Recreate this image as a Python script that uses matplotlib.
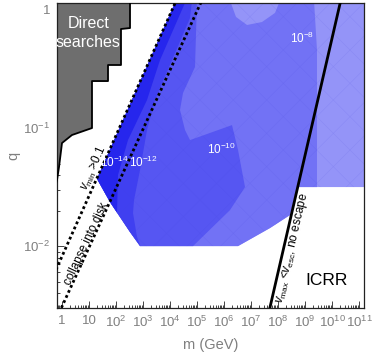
import numpy as np
import matplotlib
matplotlib.use('Agg')
from matplotlib import pyplot as plt
from matplotlib.ticker import FixedLocator, FuncFormatter, NullFormatter

plt.rcParams['font.family'] = ['Liberation Sans', 'DejaVu Sans']
plt.rcParams['mathtext.fontset'] = 'custom'
plt.rcParams['mathtext.rm'] = 'Liberation Sans'
plt.rcParams['mathtext.it'] = 'Liberation Sans:italic'
plt.rcParams['mathtext.bf'] = 'Liberation Sans:bold'
plt.rcParams['hatch.linewidth'] = 0.4

# everything below is log10(m / GeV) and log10(q)

# direct searches (grey staircase)
direct_logm = [-0.4, 2.519, 2.519, 2.185, 2.185, 1.704, 1.704, 1.111, 1.111, 0.370, 0.0, -0.111, -0.185, -0.4]
direct_logq = [0.08, 0.08, -0.153, -0.161, -0.466, -0.466, -0.602, -0.602, -1.0, -1.059, -1.127, -1.331, -1.441, -1.6]

# blue regions, outermost first
region_logm = [
    [4.225, 11.3, 11.3, 8.704, 8.444, 7.704, 6.519, 2.889, 2.519, 1.778, 1.296],
    [4.225, 6.222, 6.444, 6.852, 7.407, 7.889, 8.074, 9.333, 9.444, 9.444, 8.704, 8.444, 7.704, 6.519,
     2.889, 2.519, 1.778, 1.296],
    [4.225, 5.0, 4.926, 4.481, 4.370, 4.556, 4.741, 6.296, 6.519, 6.778, 6.222, 4.852, 2.889, 2.519,
     1.778, 1.296],
    [4.225, 4.815, 4.741, 3.444, 3.148, 2.889, 2.667, 2.630, 2.778, 2.90, 2.519, 1.778, 1.296],
    [4.225, 4.593, 3.630, 3.148, 2.444, 2.074, 2.037, 1.778, 1.296],
]
region_logq = [
    [0.08, 0.08, -1.5, -1.5, -1.737, -1.847, -2.0, -2.0, -1.881, -1.627, -1.43],
    [0.08, 0.08, -0.059, -0.127, -0.102, -0.025, 0.08, 0.08, -0.339, -1.5, -1.5, -1.737, -1.847, -2.0,
     -2.0, -1.881, -1.627, -1.43],
    [0.08, 0.08, -0.483, -0.703, -0.847, -1.017, -1.102, -0.975, -1.186, -1.5, -1.695, -2.0, -2.0, -1.881,
     -1.627, -1.43],
    [0.08, 0.08, -0.068, -0.763, -1.017, -1.356, -1.610, -1.720, -1.924, -2.0, -1.881, -1.627, -1.43],
    [0.08, 0.08, -0.424, -0.763, -1.102, -1.398, -1.716, -1.627, -1.43],
]
region_colors = ['#9494f8', '#7272f5', '#5656f2', '#4040f0', '#2626ed']

# contour labels
label_text = ['$10^{-14}$', '$10^{-12}$', '$10^{-10}$', '$10^{-8}$']
label_logm = [1.963, 3.0, 5.889, 8.889]
label_logq = [-1.288, -1.288, -1.178, -0.237]

# straight bounds (end points)
vmin_m = [0.6, 1.7e4]
vmin_q = [0.0063, 1.2]
disk_m = [0.95, 1.5e5]
disk_q = [0.003, 1.2]
icrr_m = [5.0e7, 2.1e10]
icrr_q = [0.003, 1.2]

# ticks
xticks = [10.0 ** k for k in range(0, 12)]
yticks = [0.01, 0.1, 1.0]

gris = '#7f7f7f'

fig = plt.figure(figsize=(3.74, 3.56), dpi=100)
ax = fig.add_axes([57 / 374, 48 / 356, 307 / 374, 305 / 356])
ax.set_xscale('log')
ax.set_yscale('log')

for lm, lq, c in zip(region_logm, region_logq, region_colors):
    ax.fill(10 ** np.array(lm), 10 ** np.array(lq), color=c, lw=0, zorder=1)
# faint mesh like the original triangulation
ax.fill(10 ** np.array(region_logm[0]), 10 ** np.array(region_logq[0]), facecolor='none',
        edgecolor=(0.25, 0.25, 0.85, 0.12), hatch='x', lw=0, zorder=1.5)

ax.fill(10 ** np.array(direct_logm), 10 ** np.array(direct_logq), color='#6e6e6e', lw=0, zorder=2)
ax.plot(10 ** np.array(direct_logm[1:]), 10 ** np.array(direct_logq[1:]), color='black', lw=1.3, zorder=3)

ax.plot(vmin_m, vmin_q, color='black', lw=2, ls=(0, (1, 1)), zorder=4)
ax.plot(disk_m, disk_q, color='black', lw=2, ls=(0, (1, 1)), zorder=4)
ax.plot(icrr_m, icrr_q, color='black', lw=2, zorder=4)

for t, lm, lq in zip(label_text, label_logm, label_logq):
    ax.text(10 ** lm, 10 ** lq, t, color='white', fontsize=8.5, ha='center', va='center', zorder=5)

ax.text(10 ** 0.98, 10 ** -0.195, 'Direct\nsearches', color='white', fontsize=11.5, ha='center',
        va='center', linespacing=1.35, zorder=5)
ax.text(10 ** 9.78, 10 ** -2.29, 'ICRR', color='black', fontsize=12.5, ha='center', va='center', zorder=5)
ax.text(10 ** 1.185, 10 ** -1.339, r'$v_{\rm min}$ >0.1', color='black', fontsize=8.5, rotation=66,
        ha='center', va='center', rotation_mode='anchor', zorder=5)
ax.text(10 ** 0.889, 10 ** -1.983, 'collapse into disk', color='black', fontsize=8.5, rotation=65,
        ha='center', va='center', rotation_mode='anchor', zorder=5)
ax.text(10 ** 8.519, 10 ** -2.017, r'$v_{\rm max}$ <$v_{\rm esc}$, no escape', color='black', fontsize=8.5,
        rotation=77, ha='center', va='center', rotation_mode='anchor', zorder=5)

ax.set_xlim(0.653, 1.53e11)
ax.set_ylim(0.00299, 1.146)


def fmt(v, pos):
    n = int(round(np.log10(v)))
    if n == 0:
        return '1'
    if n == 1:
        return '10'
    return '10$^{%d}$' % n


xminor = [s * t for t in xticks[:-1] for s in range(2, 10)] + [0.7, 0.8, 0.9]
yminor = [s * t for t in [0.001, 0.01, 0.1] for s in range(2, 10) if s * t > 0.003]
ax.xaxis.set_major_locator(FixedLocator(xticks))
ax.xaxis.set_minor_locator(FixedLocator(xminor))
ax.yaxis.set_major_locator(FixedLocator(yticks))
ax.yaxis.set_minor_locator(FixedLocator(yminor))
ax.xaxis.set_major_formatter(FuncFormatter(fmt))
ax.yaxis.set_major_formatter(FuncFormatter(fmt))
ax.xaxis.set_minor_formatter(NullFormatter())
ax.yaxis.set_minor_formatter(NullFormatter())

ax.tick_params(which='both', direction='in', top=False, right=False, colors='#444444',
               labelcolor=gris, labelsize=9.5, width=0.7)
ax.tick_params(which='major', length=5, pad=5)
ax.tick_params(which='minor', length=2.5)
for s in ax.spines.values():
    s.set_color('#222222')
    s.set_linewidth(0.9)

ax.set_xlabel('m (GeV)', color=gris, fontsize=10.5, labelpad=6)
ax.set_ylabel('q', color=gris, fontsize=10.5, labelpad=2)

fig.savefig('out.png', dpi=100)
